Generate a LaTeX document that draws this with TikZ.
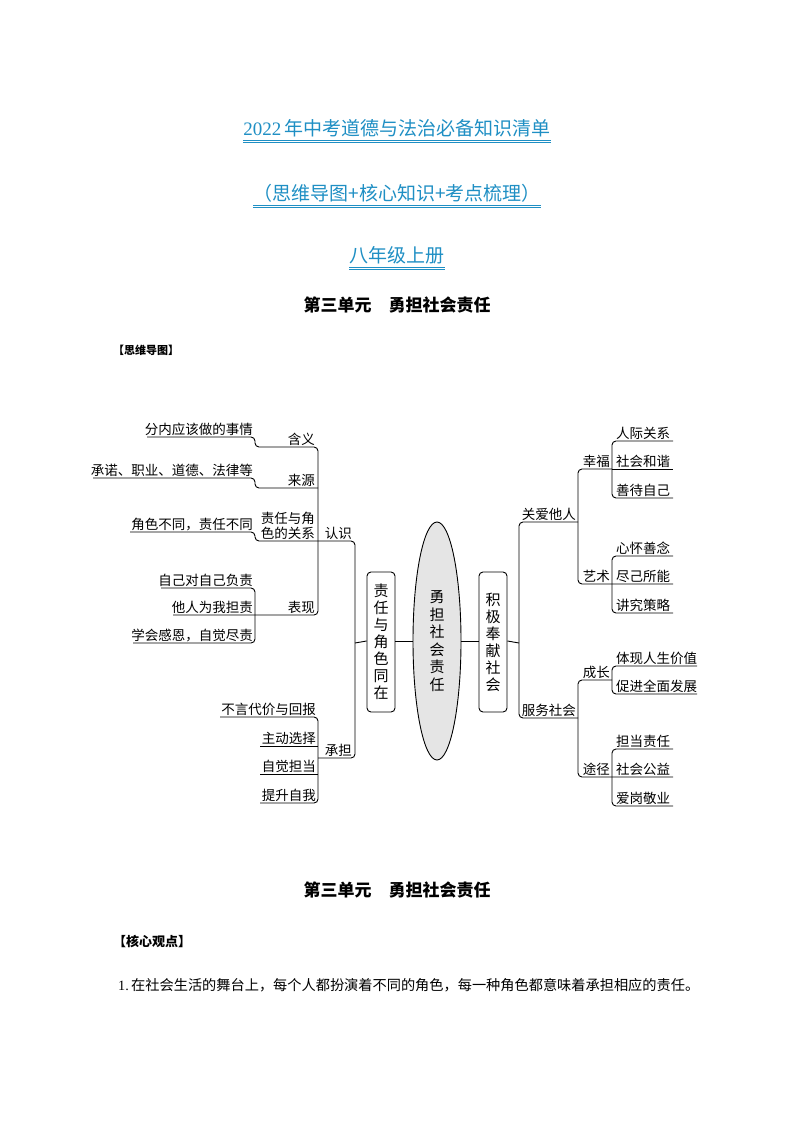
\documentclass[tikz,border=0pt]{standalone}
\usepackage{fontspec}
\usetikzlibrary{shapes.geometric}
\setmainfont{Liberation Serif}
\newfontfamily\cjk{Noto Sans CJK SC}
\definecolor{tblue}{HTML}{1F8FC4}
\tikzset{
  lf/.style={font=\cjk\fontsize{13.5}{15}\selectfont, inner sep=1pt, anchor=south east},
  br/.style={line width=0.9pt, rounded corners=4pt},
  vbox/.style={draw, line width=0.9pt, rounded corners=4pt, minimum width=28pt, minimum height=140pt, font=\cjk\fontsize{15}{17}\selectfont, align=center, inner sep=0pt},
  ttl/.style={text=tblue, font=\fontsize{19}{22}\selectfont, inner sep=0pt},
  ul/.style={tblue, line width=0.6pt},
}
\begin{document}
\begin{tikzpicture}[x=1pt,y=-1pt]
\useasboundingbox[fill=white] (0,0) rectangle (794,1123);
% titles
\node[ttl] (t1) at (397,128) {2022\,{\cjk 年中考道德与法治必备知识清单}};
\node[ttl] (t2) at (397,193) {{\cjk （思维导图+核心知识+考点梳理）}};
\node[ttl] (t3) at (397,255) {{\cjk 八年级上册}};
\foreach \t in {t1,t2,t3}{
  \draw[ul] ([yshift=-3pt]\t.south west) -- ([yshift=-3pt]\t.south east);
  \draw[ul] ([yshift=-5pt]\t.south west) -- ([yshift=-5pt]\t.south east);
}
\node[font=\cjk\bfseries\fontsize{17}{20}\selectfont] (h1) at (397,305) {第三单元\quad 勇担社会责任};
\node[font=\cjk\bfseries\fontsize{11}{13}\selectfont, anchor=west, inner sep=0pt] (h2) at (113,350) {【思维导图】};
% center
\node[draw, ellipse, fill=gray!20, line width=0.9pt, minimum width=48pt, minimum height=238pt, inner sep=0pt, font=\cjk\fontsize{15}{17.5}\selectfont, align=center] (c) at (437,641) {勇\\担\\社\\会\\责\\任};
\node[vbox] (L) at (381,642) {责\\任\\与\\角\\色\\同\\在};
\node[vbox] (R) at (493,642) {积\\极\\奉\\献\\社\\会};
\draw[line width=0.9pt] (L.east|-c) -- (c.west);
\draw[line width=0.9pt] (c.east) -- (R.west|-c);
% left structure
\draw[br] (147,437) -- (255,437) -- (255,447) -- (318,447) -- (318,615) -- (173,615);
\draw[br] (93,478) -- (255,478) -- (255,488) -- (318,488);
\draw[br] (130,532) -- (255,532) -- (255,541) -- (355,541) -- (355,758) -- (318,758);
\draw[br] (161,588) -- (255,588) -- (255,643) -- (133,643);
\draw[br] (220,717) -- (318,717) -- (318,803) -- (260,803);
\draw[br] (260,746) -- (318,746);
\draw[br] (260,774) -- (318,774);
\draw[line width=0.9pt] (355,643) -- (L.west|-c);
% right structure
\draw[line width=0.9pt] (R.east|-c) -- (519,643);
\draw[br] (578,522) -- (519,522) -- (519,718) -- (578,718);
\draw[br] (612,469) -- (578,469) -- (578,584) -- (673,584);
\draw[br] (673,441) -- (612,441) -- (612,498) -- (673,498);
\draw[br] (612,469) -- (673,469);
\draw[br] (673,556) -- (612,556) -- (612,613) -- (673,613);
\draw[br] (612,680) -- (578,680) -- (578,777) -- (673,777);
\draw[br] (697,666) -- (612,666) -- (612,694) -- (697,694);
\draw[br] (673,749) -- (612,749) -- (612,806) -- (673,806);
% left labels
\node[lf] (a1) at (254,437) {分内应该做的事情};
\node[lf] (a2) at (254,478) {承诺、职业、道德、法律等};
\node[lf] (a3) at (254,532) {角色不同，责任不同};
\node[lf] (a4) at (254,588) {自己对自己负责};
\node[lf] (a5) at (254,615) {他人为我担责};
\node[lf] (a6) at (254,643) {学会感恩，自觉尽责};
\node[lf] (b1) at (316,447) {含义};
\node[lf] (b2) at (316,488) {来源};
\node[lf, align=right] (b3) at (316,541) {责任与角\\色的关系};
\node[lf] (b4) at (316,615) {表现};
\node[lf] (b5) at (353,541) {认识};
\node[lf] (b6) at (353,758) {承担};
\node[lf] (d1) at (317,717) {不言代价与回报};
\node[lf] (d2) at (317,746) {主动选择};
\node[lf] (d3) at (317,774) {自觉担当};
\node[lf] (d4) at (317,803) {提升自我};
% right labels
\node[lf] (r1) at (577,522) {关爱他人};
\node[lf] (r2) at (577,718) {服务社会};
\node[lf] (r3) at (611,469) {幸福};
\node[lf] (r4) at (611,584) {艺术};
\node[lf] (r5) at (611,680) {成长};
\node[lf] (r6) at (611,777) {途径};
\node[lf, anchor=south west] (s1) at (615,441) {人际关系};
\node[lf, anchor=south west] (s2) at (615,469) {社会和谐};
\node[lf, anchor=south west] (s3) at (615,498) {善待自己};
\node[lf, anchor=south west] (s4) at (615,556) {心怀善念};
\node[lf, anchor=south west] (s5) at (615,584) {尽己所能};
\node[lf, anchor=south west] (s6) at (615,613) {讲究策略};
\node[lf, anchor=south west] (s7) at (615,666) {体现人生价值};
\node[lf, anchor=south west] (s8) at (615,694) {促进全面发展};
\node[lf, anchor=south west] (s9) at (615,749) {担当责任};
\node[lf, anchor=south west] (s10) at (615,777) {社会公益};
\node[lf, anchor=south west] (s11) at (615,806) {爱岗敬业};
% lower text
\node[font=\cjk\bfseries\fontsize{17}{20}\selectfont] (h3) at (397,890) {第三单元\quad 勇担社会责任};
\node[font=\cjk\bfseries\fontsize{13}{15}\selectfont, anchor=west, inner sep=0pt] (h4) at (113,941) {【核心观点】};
\node[font=\fontsize{14.2}{16}\selectfont, anchor=west, inner sep=0pt] (p1) at (118,985) {1.\,{\cjk 在社会生活的舞台上，每个人都扮演着不同的角色，每一种角色都意味着承担相应的责任。}};
\end{tikzpicture}
\end{document}
